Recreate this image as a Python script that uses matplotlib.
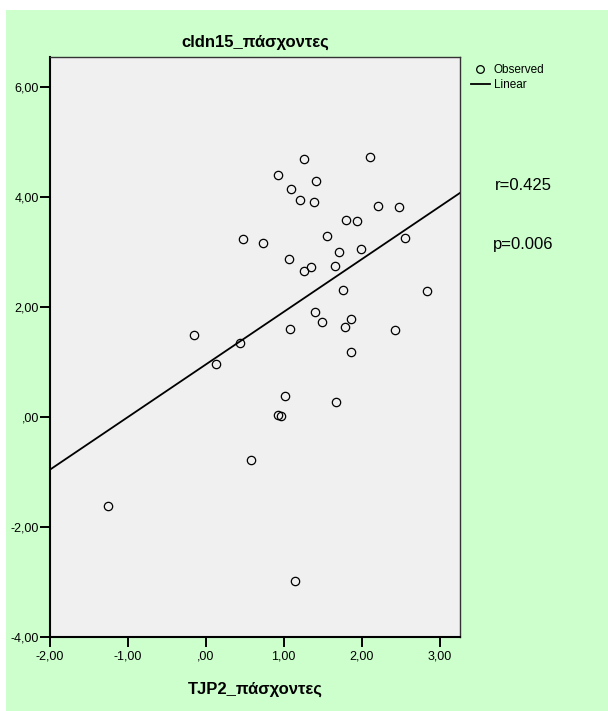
import numpy as np
import matplotlib.pyplot as plt
from matplotlib.lines import Line2D
from matplotlib.patches import Rectangle
from matplotlib.ticker import FuncFormatter

plt.rcParams['font.family'] = ['Liberation Sans', 'DejaVu Sans']

# TJP2 vs cldn15 expression, patients group
tjp2 = [-1.252, -0.148, 0.127, 0.443, 0.481, 0.734, 0.580, 0.931, 1.261, 1.098,
        1.203, 1.418, 1.389, 1.068, 1.257, 1.351, 1.560, 1.706, 1.996, 1.662,
        1.800, 1.944, 2.108, 2.207, 2.484, 2.560, 1.761, 2.843, 1.406, 1.496,
        1.868, 1.787, 2.433, 1.081, 1.868, 1.017, 0.931, 0.962, 1.668, 1.145]
cldn15 = [-1.624, 1.491, 0.964, 1.340, 3.225, 3.167, -0.793, 4.389, 4.685, 4.135,
          3.940, 4.285, 3.898, 2.867, 2.658, 2.727, 3.280, 2.995, 3.055, 2.731,
          3.576, 3.558, 4.722, 3.831, 3.813, 3.249, 2.309, 2.285, 1.898, 1.716,
          1.776, 1.636, 1.571, 1.595, 1.176, 0.376, 0.031, 0.007, 0.267, -2.982]
xticks = [-2, -1, 0, 1, 2, 3]
yticks = [-4, -2, 0, 2, 4, 6]
r_text = 'r=0.425'
p_text = 'p=0.006'

W, H = 608, 711
fig = plt.figure(figsize=(W / 100, H / 100), dpi=100)
fig.patch.set_facecolor('white')
fig.patches.append(Rectangle((6 / W, 0), 1, 1 - 10 / H, transform=fig.transFigure,
                             facecolor='#ccffcc', edgecolor='none', zorder=-10))

ax = fig.add_axes([50 / W, 1 - 636.7 / H, 410 / W, 579.4 / H])
ax.set_facecolor('#f0f0f0')

xmin, xmax = -2, -2 + 410 / 77.9
ymin, ymax = -4, -4 + 579.4 / 55
ax.set_xlim(xmin, xmax)
ax.set_ylim(ymin, ymax)

ax.plot(tjp2, cldn15, linestyle='none', marker='o', markersize=6,
        markerfacecolor='none', markeredgecolor='black', markeredgewidth=0.9)

slope, intercept = np.polyfit(tjp2, cldn15, 1)
xs = np.array([xmin, xmax])
ax.plot(xs, slope * xs + intercept, color='black', linewidth=1.3)

fmt = FuncFormatter(lambda v, pos: ('%.2f' % v).replace('0.', '.', 1).replace('.', ',')
                    if abs(v) < 1 else ('%.2f' % v).replace('.', ','))
ax.set_xticks(xticks)
ax.set_yticks(yticks)
ax.xaxis.set_major_formatter(fmt)
ax.yaxis.set_major_formatter(fmt)
ax.tick_params(direction='out', length=7, width=1.4, labelsize=9, color='black')
ax.tick_params(axis='y', pad=1)
ax.tick_params(axis='x', pad=3)
for side in ['left', 'bottom']:
    ax.spines[side].set_linewidth(1.5)
for side in ['top', 'right']:
    ax.spines[side].set_linewidth(1.0)
    ax.spines[side].set_color('#333333')

ax.set_title('cldn15_πάσχοντες', fontsize=12, fontweight='bold', pad=8)
ax.set_xlabel('TJP2_πάσχοντες', fontsize=12, fontweight='bold', labelpad=14)

handles = [Line2D([], [], linestyle='none', marker='o', markersize=5.5,
                  markerfacecolor='none', markeredgecolor='black', markeredgewidth=0.9),
           Line2D([], [], color='black', linewidth=1.3)]
fig.legend(handles, ['Observed', 'Linear'], loc='upper left',
           bbox_to_anchor=(466 / W, 1 - 59 / H), frameon=False, fontsize=8.5,
           handlelength=1.6, handletextpad=0.35, labelspacing=0.25, borderaxespad=0)

fig.text(523 / W, 1 - 186 / H, r_text, fontsize=12, ha='center', va='center')
fig.text(523 / W, 1 - 244 / H, p_text, fontsize=12, ha='center', va='center')

fig.savefig('out.png', dpi=100, facecolor=fig.get_facecolor())
